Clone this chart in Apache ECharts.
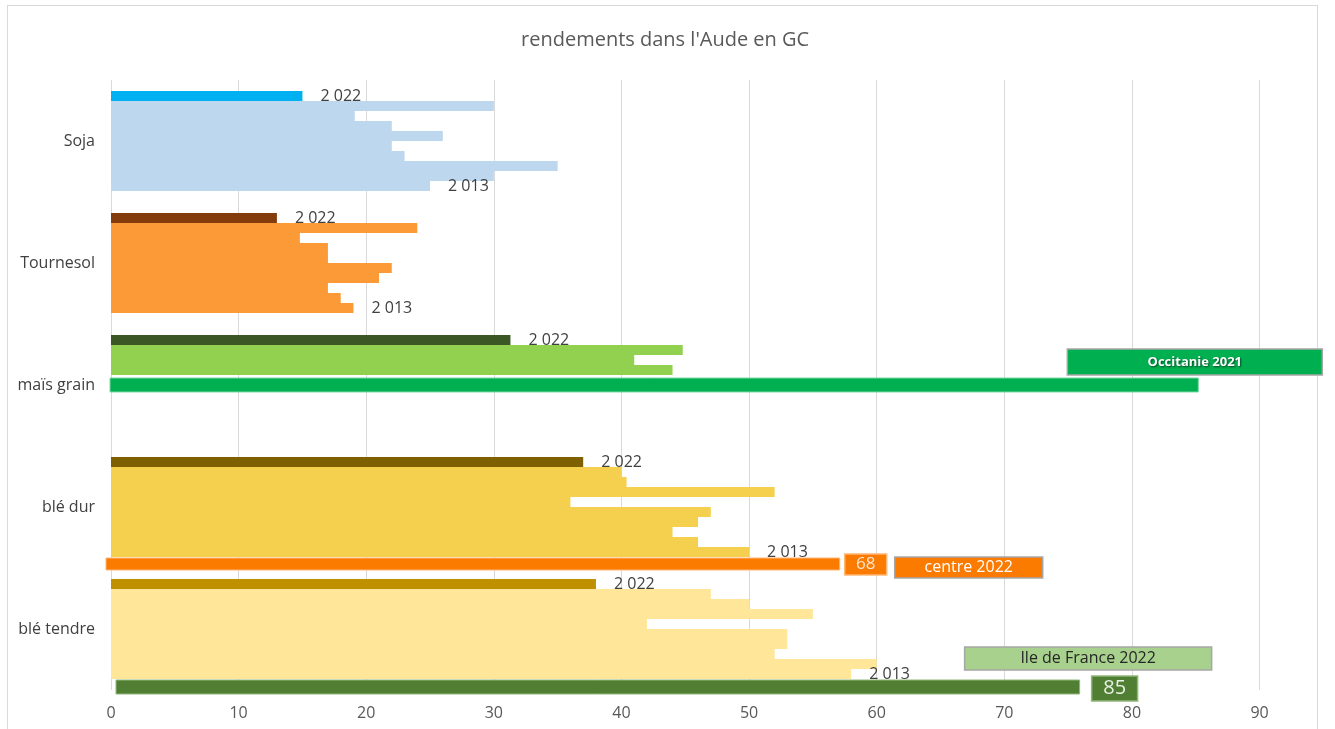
<!DOCTYPE html>
<html>
<head>
<meta charset="utf-8">
<title>rendements dans l'Aude en GC</title>
<script src="https://cdn.jsdelivr.net/npm/echarts@6/dist/echarts.min.js"></script>
<style>
  html, body { margin: 0; padding: 0; background: #fff; }
  #frame { position: absolute; left: 7px; top: 5px; width: 1309px; height: 800px; border: 1px solid #d9d9d9; }
  #chart { position: absolute; left: 0; top: 0; width: 1335px; height: 729px; }
</style>
</head>
<body>
<div id="frame"></div>
<div id="chart"></div>
<script>
const categories = ['Soja', 'Tournesol', 'maïs grain', 'blé dur', 'blé tendre'];
const years = [2022, 2021, 2020, 2019, 2018, 2017, 2016, 2015, 2014, 2013];

// rendements de 2022 à 2013
const soja = [15, 30, 19.1, 22, 26, 22, 23, 35, 30, 25];
const tournesol = [13, 24, 14.8, 17, 17, 22, 21, 17, 18, 19];
const maisGrain = [31.3, 44.8, 41, 44, null, null, null, null, null, null];
const bleDur = [37, 40, 40.4, 52, 36, 47, 46, 44, 46, 50];
const bleTendre = [38, 47, 50, 55, 42, 53, 53, 52, 60, 58];

// barres collées par-dessus (autres régions)
const overlayCategories = ['maïs grain', 'blé dur', 'blé tendre'];
const overlayValues = [85.2, 57.1, 75.9];
const overlayTags = ['', '68', '85'];
const overlayNames = ['Occitanie 2021', 'centre 2022', 'Ile de France 2022'];

const crops = [soja, tournesol, maisGrain, bleDur, bleTendre];
const darkColors = ['#00b0f0', '#843c0c', '#3a5724', '#7f6000', '#bf9000'];
const lightColors = ['#bdd7ee', '#fd9a38', '#92d050', '#f4d04e', '#ffe699'];
const FONT = '"Open Sans", "Noto Sans", sans-serif';

const overlayStyles = [
  { color: '#00b050', stroke: '#80d8a6', height: 14, dy: 0, x0: -1,
    nameBox: { dx: -131, dy: -36, w: 255, h: 26, fill: '#00b050', stroke: '#a6a6a6', text: '#ffffff', font: 'bold 13px ' + FONT, shadow: true } },
  { color: '#fb7a00', stroke: '#ffb775', height: 12, dy: 57, x0: -5,
    tagBox: { dx: 5, dy: -10, w: 42, h: 21, fill: '#fb7a00', stroke: '#ffb775', text: '#fde6d2', font: '17px ' + FONT },
    nameBox: { dx: 55, dy: -7, w: 148, h: 21, fill: '#fb7a00', stroke: '#a6a6a6', text: '#ffffff', font: '16px ' + FONT } },
  { color: '#507e32', stroke: '#93b77a', height: 14, dy: 58, x0: 5,
    tagBox: { dx: 12, dy: -11, w: 46, h: 25, fill: '#507e32', stroke: '#93b77a', text: '#e9f1e3', font: '20px ' + FONT },
    nameBox: { dx: -115, dy: -40, w: 247, h: 23, fill: '#a9d18e', stroke: '#a6a6a6', text: '#262626', font: '16px ' + FONT } }
];

function fmtYear(y) {
  return String(y).replace(/(\d)(\d{3})$/, '$1 $2');
}

function renderOverlay(params, api) {
  const s = overlayStyles[params.dataIndex];
  const start = api.coord([0, api.value(1)]);
  const end = api.coord([api.value(0), api.value(1)]);
  const yc = start[1] + s.dy;
  const children = [{
    type: 'rect',
    shape: { x: start[0] + s.x0, y: yc - s.height / 2, width: end[0] - start[0] - s.x0, height: s.height },
    style: { fill: s.color, stroke: s.stroke, lineWidth: 1 }
  }];
  const boxes = [[s.tagBox, overlayTags[params.dataIndex]], [s.nameBox, overlayNames[params.dataIndex]]];
  boxes.forEach(function (pair) {
    const b = pair[0], txt = pair[1];
    if (!b || !txt) return;
    children.push({
      type: 'rect',
      shape: { x: end[0] + b.dx, y: yc + b.dy, width: b.w, height: b.h },
      style: { fill: b.fill, stroke: b.stroke, lineWidth: 1.5 }
    });
    const ts = {
      text: txt, x: end[0] + b.dx + b.w / 2, y: yc + b.dy + b.h / 2,
      fill: b.text, font: b.font, align: 'center', verticalAlign: 'middle'
    };
    if (b.shadow) {
      ts.textShadowColor = 'rgba(0,0,0,0.6)';
      ts.textShadowBlur = 2;
      ts.textShadowOffsetX = 1;
      ts.textShadowOffsetY = 1;
    }
    children.push({ type: 'text', style: ts });
  });
  return { type: 'group', children: children };
}

const barSeries = years.map(function (y, i) {
  const withLabel = i === 0 || i === years.length - 1;
  const palette = i === 0 ? darkColors : lightColors;
  return {
    type: 'bar',
    name: String(y),
    data: crops.map(function (c) { return c[i]; }),
    barGap: '0%',
    barCategoryGap: '18%',
    itemStyle: {
      color: function (p) { return palette[p.dataIndex]; }
    },
    label: {
      show: withLabel,
      position: 'right',
      distance: 18,
      formatter: fmtYear(y),
      color: '#404040',
      fontSize: 16,
      fontFamily: FONT
    }
  };
});

const chart = echarts.init(document.getElementById('chart'));
chart.setOption({
  animation: false,
  title: {
    text: "rendements dans l'Aude en GC",
    left: 516,
    top: 25,
    textStyle: { color: '#595959', fontSize: 20, fontWeight: 'normal', fontFamily: FONT }
  },
  grid: { left: 111, right: 18, top: 80, bottom: 39, containLabel: false },
  xAxis: {
    type: 'value',
    min: 0,
    max: 94.5,
    interval: 10,
    axisLine: { show: false },
    axisTick: { show: false },
    splitLine: { lineStyle: { color: '#d9d9d9', width: 1 } },
    axisLabel: {
      color: '#595959', fontSize: 16, fontFamily: FONT, margin: 15,
      formatter: function (v) { return v % 10 === 0 ? String(v) : ''; }
    }
  },
  yAxis: {
    type: 'category',
    inverse: true,
    data: categories,
    axisLine: { show: false },
    axisTick: { show: false },
    axisLabel: { color: '#404040', fontSize: 16, fontFamily: FONT, margin: 16 }
  },
  series: barSeries.concat([{
    type: 'custom',
    coordinateSystem: 'cartesian2d',
    clip: false,
    silent: true,
    z: 5,
    renderItem: renderOverlay,
    encode: { x: 0, y: 1 },
    data: overlayValues.map(function (v, i) {
      return [v, categories.indexOf(overlayCategories[i])];
    })
  }])
});
</script>
</body>
</html>
